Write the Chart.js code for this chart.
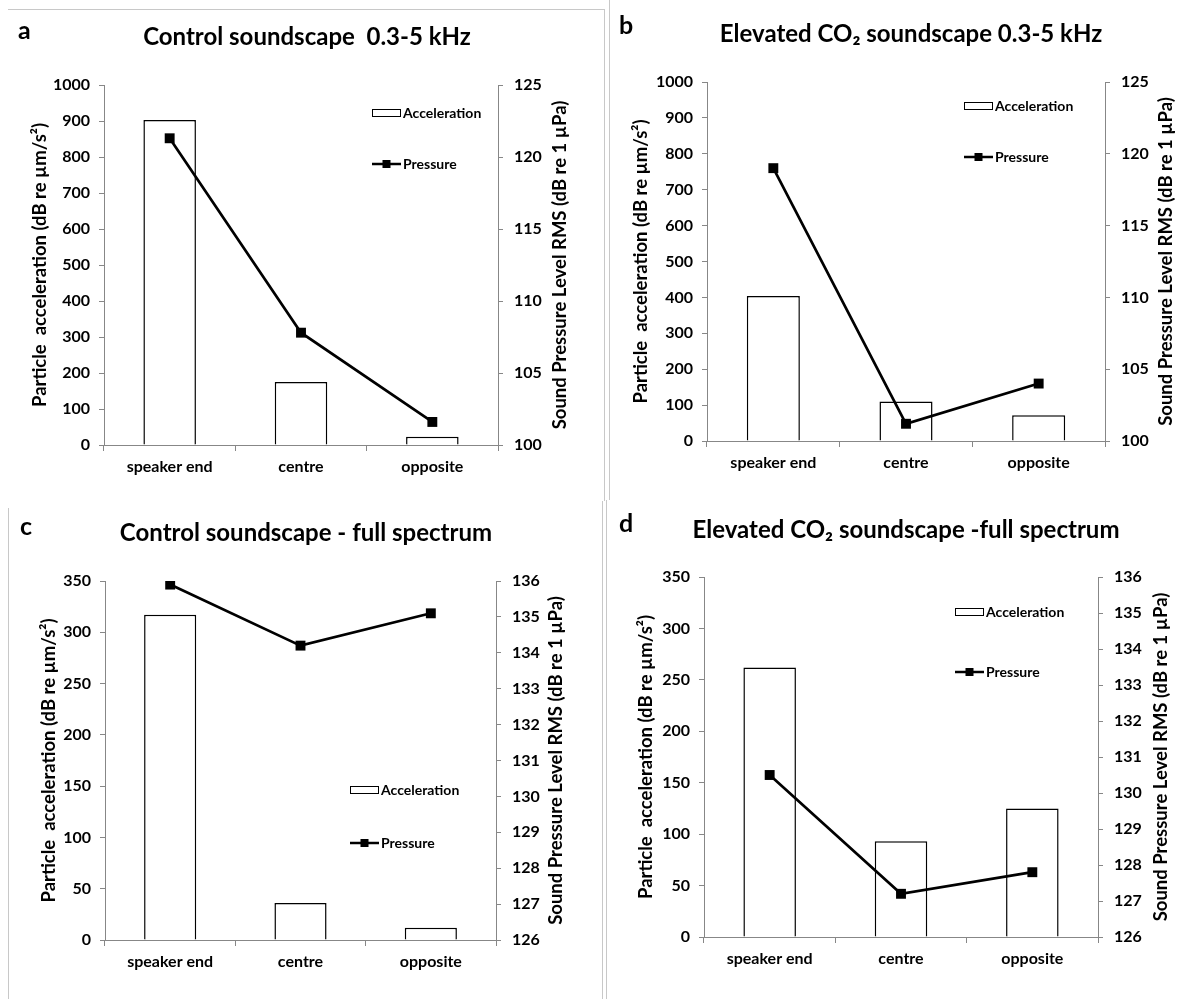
<!DOCTYPE html>
<html>
<head>
<meta charset="utf-8">
<title>Particle acceleration and sound pressure</title>
<script src="https://cdn.jsdelivr.net/npm/chart.js@4"></script>
<style>
  html, body { margin: 0; padding: 0; background: #fff; }
  body { width: 1195px; height: 999px; position: relative; overflow: hidden; }
  canvas { position: absolute; }
  .rule { position: absolute; background: #c8c8c8; }
</style>
</head>
<body>
<canvas id="chartA" width="600" height="498" style="left:0;top:0"></canvas>
<canvas id="chartB" width="595" height="498" style="left:600px;top:0"></canvas>
<canvas id="chartC" width="600" height="501" style="left:0;top:498px"></canvas>
<canvas id="chartD" width="595" height="501" style="left:600px;top:498px"></canvas>

<!-- panel frame lines -->
<div class="rule" style="left:8px;top:9px;width:597px;height:1px"></div>
<div class="rule" style="left:604px;top:9px;width:1px;height:492px"></div>
<div class="rule" style="left:609px;top:0;width:1px;height:500px"></div>
<div class="rule" style="left:8px;top:508px;width:1px;height:491px"></div>
<div class="rule" style="left:602px;top:501px;width:1px;height:498px"></div>
<div class="rule" style="left:606px;top:500px;width:1px;height:499px"></div>

<script>
// ---- data ----
const categories = ['speaker end', 'centre', 'opposite'];

const accelLow = { control: [903, 175, 23], elevated: [404, 110, 72] };
const pressureLow = { control: [121.3, 107.8, 101.6], elevated: [119.0, 101.2, 104.0] };

const accelFull = [317, 36, 12];
const pressureFull = [135.9, 134.2, 135.1];
const accelFullCO2 = [262, 93, 125];
const pressureFullCO2 = [130.5, 127.2, 127.8];

const panelLetters = ['a', 'b', 'c', 'd'];
const panelTitles = [
  'Control soundscape  0.3-5 kHz',
  'Elevated CO\u2082 soundscape 0.3-5 kHz',
  'Control soundscape - full spectrum',
  'Elevated CO\u2082 soundscape -full spectrum'
];
const seriesNames = ['Acceleration', 'Pressure'];
const leftAxisTitle = 'Particle  acceleration (dB re \u00b5m/s\u00b2)';
const rightAxisTitle = 'Sound Pressure Level RMS (dB re 1 \u00b5Pa)';

// axis ranges: [min, max, step]
const accelRangeLow = [0, 1000, 100];
const pressureRangeLow = [100, 125, 5];
const accelRangeFull = [0, 350, 50];
const pressureRangeFull = [126, 136, 1];

// ---- styling ----
const FONT = 'Lato, Carlito, "Open Sans", sans-serif';
const AXIS = '#878787';
Chart.defaults.font.family = FONT;
Chart.defaults.font.weight = 'bold';
Chart.defaults.color = '#000';

// draws panel letter, title, rotated axis titles and the in-plot legend
const decor = {
  id: 'decor',
  afterDraw(chart, args, o) {
    const ctx = chart.ctx;
    const a = chart.chartArea;
    const cy = (a.top + a.bottom) / 2;
    ctx.save();
    ctx.fillStyle = '#000';
    ctx.textBaseline = 'middle';

    ctx.font = 'bold 25px ' + FONT;
    ctx.textAlign = 'left';
    ctx.fillText(o.letter, o.letterX, o.letterY);

    ctx.font = 'bold 24px ' + FONT;
    ctx.textAlign = 'center';
    ctx.fillText(o.title, o.titleX, o.titleY);

    [[o.leftTitleX, leftAxisTitle, 18.5], [o.rightTitleX, rightAxisTitle, 18.5]].forEach(([x, t, size]) => {
      ctx.save();
      ctx.font = 'bold ' + size + 'px ' + FONT;
      ctx.translate(x, cy);
      ctx.rotate(-Math.PI / 2);
      ctx.fillText(t, 0, 0);
      ctx.restore();
    });

    // legend
    const bar = chart.data.datasets.find(d => d.type === 'bar');
    const line = chart.data.datasets.find(d => d.type === 'line');
    const lx = o.legendX, w = 29;
    ctx.font = 'bold 14px ' + FONT;
    ctx.textAlign = 'left';
    ctx.fillStyle = '#fff';
    ctx.fillRect(lx, o.legendY1 - 4, w, 8);
    ctx.strokeStyle = '#000';
    ctx.lineWidth = 1;
    ctx.strokeRect(lx + 0.5, o.legendY1 - 3.5, w - 1, 7);
    ctx.fillStyle = '#000';
    ctx.fillText(bar.label, lx + w + 2, o.legendY1);

    ctx.lineWidth = 2.5;
    ctx.beginPath();
    ctx.moveTo(lx, o.legendY2);
    ctx.lineTo(lx + w, o.legendY2);
    ctx.stroke();
    ctx.fillRect(lx + w / 2 - 4, o.legendY2 - 4, 8, 8);
    ctx.fillText(line.label, lx + w + 2, o.legendY2);
    ctx.restore();
  }
};

const plainNumber = v => String(v);

function makeChart(id, p) {
  const canvas = document.getElementById(id);
  const W = canvas.width, H = canvas.height;
  const tickFont = { size: 16, weight: 'bold', family: FONT };
  return new Chart(canvas, {
    type: 'bar',
    data: {
      labels: categories,
      datasets: [
        {
          type: 'line', label: seriesNames[1], data: p.pressure, yAxisID: 'yR',
          borderColor: '#000', backgroundColor: '#000', borderWidth: 2.7,
          pointStyle: 'rect', pointRadius: 7, pointHoverRadius: 7,
          pointBackgroundColor: '#000', pointBorderWidth: 0, tension: 0, order: 0
        },
        {
          type: 'bar', label: seriesNames[0], data: p.accel, yAxisID: 'yL',
          backgroundColor: '#fff', borderColor: '#000', borderWidth: 1.5,
          barPercentage: 0.4, categoryPercentage: 1, order: 1
        }
      ]
    },
    options: {
      responsive: false,
      animation: false,
      events: [],
      layout: { padding: { top: p.plot.top, left: 0, right: 0, bottom: 0 } },
      plugins: {
        legend: { display: false },
        tooltip: { enabled: false },
        decor: p.decor
      },
      scales: {
        x: {
          grid: { offset: true, drawOnChartArea: false, drawTicks: true, tickLength: 6, color: AXIS },
          border: { color: AXIS, width: 1 },
          ticks: { font: tickFont, color: '#000', padding: 6, maxRotation: 0 },
          afterFit(s) { s.height = H - p.plot.bottom; }
        },
        yL: {
          position: 'left', min: p.accelRange[0], max: p.accelRange[1],
          grid: { drawOnChartArea: false, tickLength: 5, color: AXIS },
          border: { color: AXIS, width: 1 },
          ticks: { stepSize: p.accelRange[2], font: tickFont, color: '#000', padding: 9, callback: plainNumber },
          afterFit(s) { s.width = p.plot.left; }
        },
        yR: {
          position: 'right', min: p.pressureRange[0], max: p.pressureRange[1],
          grid: { drawOnChartArea: false, tickLength: 5, color: AXIS },
          border: { color: AXIS, width: 1 },
          ticks: { stepSize: p.pressureRange[2], font: tickFont, color: '#000', padding: 11, callback: plainNumber },
          afterFit(s) { s.width = W - p.plot.right; }
        }
      }
    },
    plugins: [decor]
  });
}

function draw() {
  makeChart('chartA', {
    accel: accelLow.control, pressure: pressureLow.control,
    accelRange: accelRangeLow, pressureRange: pressureRangeLow,
    plot: { left: 104, right: 498, top: 85, bottom: 445 },
    decor: { letter: panelLetters[0], letterX: 18, letterY: 31, title: panelTitles[0], titleX: 307, titleY: 37,
             leftTitleX: 40, rightTitleX: 560, legendX: 372, legendY1: 113, legendY2: 164 }
  });
  makeChart('chartB', {
    accel: accelLow.elevated, pressure: pressureLow.elevated,
    accelRange: accelRangeLow, pressureRange: pressureRangeLow,
    plot: { left: 107, right: 505, top: 82, bottom: 441 },
    decor: { letter: panelLetters[1], letterX: 19, letterY: 26, title: panelTitles[1], titleX: 311, titleY: 34,
             leftTitleX: 41, rightTitleX: 566, legendX: 364, legendY1: 106, legendY2: 157 }
  });
  makeChart('chartC', {
    accel: accelFull, pressure: pressureFull,
    accelRange: accelRangeFull, pressureRange: pressureRangeFull,
    plot: { left: 105, right: 496, top: 83, bottom: 442 },
    decor: { letter: panelLetters[2], letterX: 20, letterY: 29, title: panelTitles[2], titleX: 306, titleY: 35,
             leftTitleX: 49, rightTitleX: 556, legendX: 350, legendY1: 292, legendY2: 345 }
  });
  makeChart('chartD', {
    accel: accelFullCO2, pressure: pressureFullCO2,
    accelRange: accelRangeFull, pressureRange: pressureRangeFull,
    plot: { left: 104, right: 498, top: 79, bottom: 439 },
    decor: { letter: panelLetters[3], letterX: 19, letterY: 26, title: panelTitles[3], titleX: 306, titleY: 32,
             leftTitleX: 46, rightTitleX: 561, legendX: 355, legendY1: 114, legendY2: 174 }
  });
}

if (document.fonts && document.fonts.load) {
  Promise.all([
    document.fonts.load('bold 16px Lato'),
    document.fonts.load('16px Lato')
  ]).then(draw, draw);
} else {
  draw();
}
</script>
</body>
</html>
